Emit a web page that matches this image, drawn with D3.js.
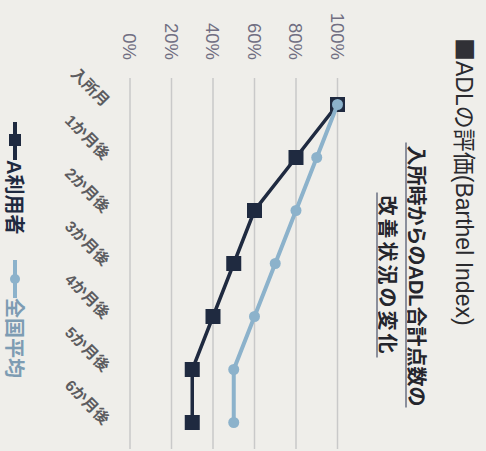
<!DOCTYPE html>
<html>
<head>
<meta charset="utf-8">
<script src="https://cdn.jsdelivr.net/npm/d3@7"></script>
<style>
  html, body { margin: 0; padding: 0; background: #efeeea; }
  svg { display: block; }
  text { font-family: "Liberation Sans", Arial, "Noto Sans CJK JP", sans-serif; }
</style>
</head>
<body>
<script>
// ADL (Barthel Index) chart — drawn upright, then the whole thing is turned
// 90° clockwise to match the scanned page.
var categories = ['入所月', '1か月後', '2か月後', '3か月後', '4か月後', '5か月後', '6か月後'];
var userValues = [100, 80, 60, 50, 40, 30, 30];   // A利用者
var avgValues = [100, 90, 80, 70, 60, 50, 50];    // 全国平均
var tickValues = [0, 20, 40, 60, 80, 100];
var seriesNames = ['A利用者', '全国平均'];
var titleMark = '■';
var titleText = 'ADLの評価(Barthel Index)';
var subtitleLines = ['入所時からのADL合計点数の', '改善状況の変化'];

var W = 486, H = 451;       // page size
var DARK = '#1f2a40', LIGHT = '#8cb2cb';

var svg = d3.select('body').append('svg').attr('width', W).attr('height', H);
svg.append('rect').attr('width', W).attr('height', H).attr('fill', '#efeeea');

var g = svg.append('g').attr('transform', 'translate(' + W + ',0) rotate(90)');

var x = d3.scalePoint().domain(categories).range([78, 449]).padding(0.5);
var y = d3.scaleLinear().domain([0, 100]).range([356, 148.5]);

// gridlines
g.append('g').selectAll('line').data(tickValues).join('line')
  .attr('x1', 78).attr('x2', 449)
  .attr('y1', function (d) { return y(d); }).attr('y2', function (d) { return y(d); })
  .attr('stroke', '#c9c9c9').attr('stroke-width', 1.5);

// value labels
g.append('g').selectAll('text').data(tickValues).join('text')
  .attr('x', 60).attr('y', function (d) { return y(d); })
  .attr('dy', '0.36em').attr('text-anchor', 'end')
  .attr('font-size', 18.5).attr('fill', '#716f82')
  .text(function (d) { return d + '%'; });

// category labels, slanted
g.append('g').selectAll('text').data(categories).join('text')
  .attr('text-anchor', 'end').attr('font-size', 15.5).attr('font-weight', 'bold')
  .attr('fill', '#5c5c60')
  .attr('transform', function (d) { return 'translate(' + (x(d) + 3) + ',383) rotate(-45)'; })
  .text(function (d) { return d; });

var line = d3.line()
  .x(function (d, i) { return x(categories[i]); })
  .y(function (d) { return y(d); });

// A利用者
g.append('path').datum(userValues).attr('d', line)
  .attr('fill', 'none').attr('stroke', DARK).attr('stroke-width', 3.5);
g.append('g').selectAll('rect').data(userValues).join('rect')
  .attr('x', function (d, i) { return x(categories[i]) - 7.5; })
  .attr('y', function (d) { return y(d) - 7.5; })
  .attr('width', 15).attr('height', 15).attr('fill', DARK);

// 全国平均
g.append('path').datum(avgValues).attr('d', line)
  .attr('fill', 'none').attr('stroke', LIGHT).attr('stroke-width', 4);
g.append('g').selectAll('circle').data(avgValues).join('circle')
  .attr('cx', function (d, i) { return x(categories[i]); })
  .attr('cy', function (d) { return y(d); })
  .attr('r', 5.5).attr('fill', LIGHT);

// title + subtitle
var title = g.append('text').attr('x', 38).attr('y', 30)
  .attr('font-size', 23).attr('fill', '#2a2a2e');
title.append('tspan').attr('font-family', '"Noto Sans CJK JP"').attr('fill', '#303036').text(titleMark);
title.append('tspan').text(titleText);

var subY = [77, 106], subLetter = [0, 3];
subtitleLines.forEach(function (s, i) {
  var t = g.append('text').attr('x', 276).attr('y', subY[i])
    .attr('text-anchor', 'middle').attr('font-size', 20).attr('font-weight', 'bold')
    .attr('letter-spacing', subLetter[i]).attr('fill', '#24252c').text(s);
  var bb = t.node().getBBox();
  g.append('line').attr('x1', bb.x - 3).attr('x2', bb.x + bb.width + 1)
    .attr('y1', subY[i] + 3).attr('y2', subY[i] + 3)
    .attr('stroke', '#8b8f9c').attr('stroke-width', 2);
});

// legend
var legX = [122, 260], legColor = [DARK, LIGHT], legText = ['#1f2a40', '#7d9cb3'], legY = 471;
seriesNames.forEach(function (name, i) {
  var lg = g.append('g');
  lg.append('line').attr('x1', legX[i]).attr('x2', legX[i] + 38)
    .attr('y1', legY).attr('y2', legY).attr('stroke', legColor[i]).attr('stroke-width', 4);
  if (i === 0) {
    lg.append('rect').attr('x', legX[i] + 12).attr('y', legY - 6)
      .attr('width', 12).attr('height', 12).attr('fill', DARK);
  } else {
    lg.append('circle').attr('cx', legX[i] + 19).attr('cy', legY).attr('r', 5).attr('fill', LIGHT);
  }
  lg.append('text').attr('x', legX[i] + 38).attr('y', legY + 8)
    .attr('font-size', 20).attr('font-weight', 'bold').attr('fill', legText[i])
    .text(name);
});
</script>
</body>
</html>
